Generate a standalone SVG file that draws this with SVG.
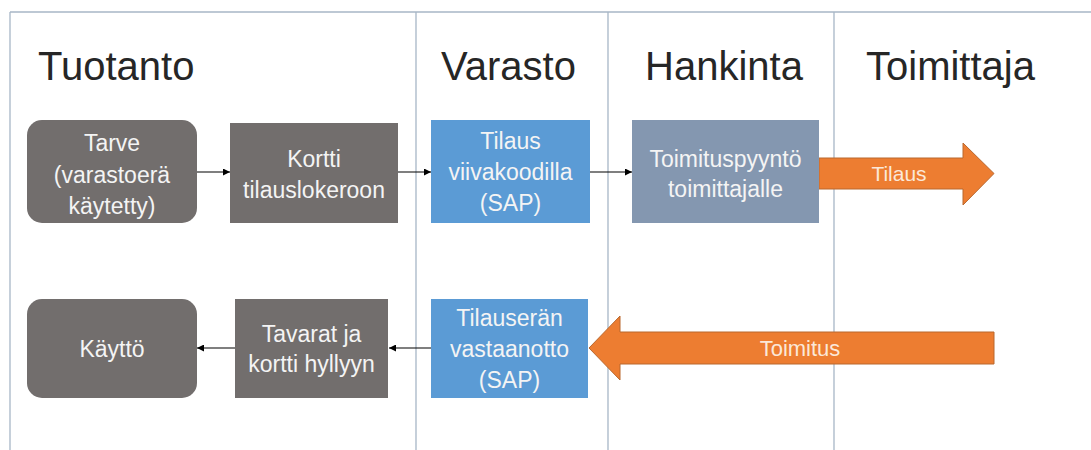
<svg xmlns="http://www.w3.org/2000/svg" width="1091" height="450" viewBox="0 0 1091 450">
  <style>
    .lane { stroke: #a7b6c6; stroke-width: 1.3; fill: none; }
    .hdr { font-family: "Liberation Sans", Arial, sans-serif; font-size: 40px; fill: #262626; }
    .txt { font-family: "Liberation Sans", Arial, sans-serif; font-size: 23px; fill: #f4f4f4; text-anchor: middle; }
    .gray { fill: #726e6d; }
    .blue { fill: #5b9bd5; }
    .slate { fill: #8497b0; }
    .conn { stroke: #000; stroke-width: 1.2; fill: none; marker-end: url(#ah); }
    .block { fill: #ed7d31; stroke: #b9682f; stroke-width: 1; }
    .btxt { font-family: "Liberation Sans", Arial, sans-serif; fill: #fbe8d8; text-anchor: middle; }
  </style>
  <defs>
    <marker id="ah" viewBox="0 0 10 10" refX="10" refY="5" markerWidth="8" markerHeight="7" markerUnits="userSpaceOnUse" orient="auto">
      <path d="M0,0 L10,5 L0,10 z" fill="#000"/>
    </marker>
  </defs>
  <rect width="1091" height="450" fill="#ffffff"/>

  <g id="lanes">
    <line class="lane" x1="10" y1="12" x2="1091" y2="12"/>
    <line class="lane" x1="10" y1="12" x2="10" y2="450"/>
    <line class="lane" x1="416" y1="12" x2="416" y2="450"/>
    <line class="lane" x1="608" y1="12" x2="608" y2="450"/>
    <line class="lane" x1="834" y1="12" x2="834" y2="450"/>
    <text class="hdr" x="38" y="80">Tuotanto</text>
    <text class="hdr" x="441" y="80">Varasto</text>
    <text class="hdr" x="645" y="80">Hankinta</text>
    <text class="hdr" x="866" y="80">Toimittaja</text>
  </g>

  <g id="connectors">
    <line class="conn" x1="197" y1="172" x2="230" y2="172"/>
    <line class="conn" x1="398" y1="172" x2="431" y2="172"/>
    <line class="conn" x1="590" y1="172" x2="632" y2="172"/>
    <line class="conn" x1="431" y1="348" x2="389" y2="348"/>
    <line class="conn" x1="235" y1="348" x2="197" y2="348"/>
    <g id="arrow-tilaus">
      <path class="block" d="M819,158 L963,158 L963,143 L994,173.5 L963,205 L963,189 L819,189 Z"/>
      <text class="btxt" x="899" y="181" font-size="21">Tilaus</text>
    </g>
    <g id="arrow-toimitus">
      <path class="block" d="M994,332 L620,332 L620,316 L589,348 L620,380 L620,364 L994,364 Z"/>
      <text class="btxt" x="800" y="356" font-size="22">Toimitus</text>
    </g>
  </g>

  <g id="tarve">
    <rect class="gray" x="27" y="120" width="170" height="103" rx="15"/>
    <text class="txt" x="112" y="151">Tarve</text>
    <text class="txt" x="112" y="183">(varastoerä</text>
    <text class="txt" x="112" y="214">käytetty)</text>
  </g>
  <g id="kortti">
    <rect class="gray" x="230" y="123" width="168" height="100"/>
    <text class="txt" x="314" y="167">Kortti</text>
    <text class="txt" x="314" y="198">tilauslokeroon</text>
  </g>
  <g id="tilaus-viivakoodilla">
    <rect class="blue" x="431" y="120" width="159" height="103"/>
    <text class="txt" x="510.5" y="149">Tilaus</text>
    <text class="txt" x="510.5" y="180">viivakoodilla</text>
    <text class="txt" x="510.5" y="211">(SAP)</text>
  </g>
  <g id="toimituspyynto">
    <rect class="slate" x="632" y="120" width="187" height="103"/>
    <text class="txt" x="725.5" y="167">Toimituspyyntö</text>
    <text class="txt" x="725.5" y="197">toimittajalle</text>
  </g>
  <g id="kaytto">
    <rect class="gray" x="27" y="299" width="170" height="99" rx="15"/>
    <text class="txt" x="112" y="357">Käyttö</text>
  </g>
  <g id="tavarat">
    <rect class="gray" x="235" y="299" width="153" height="99"/>
    <text class="txt" x="311.5" y="342">Tavarat ja</text>
    <text class="txt" x="311.5" y="372">kortti hyllyyn</text>
  </g>
  <g id="tilauseran">
    <rect class="blue" x="431" y="299" width="157" height="99"/>
    <text class="txt" x="509.5" y="326">Tilauserän</text>
    <text class="txt" x="509.5" y="357">vastaanotto</text>
    <text class="txt" x="509.5" y="388">(SAP)</text>
  </g>
</svg>
